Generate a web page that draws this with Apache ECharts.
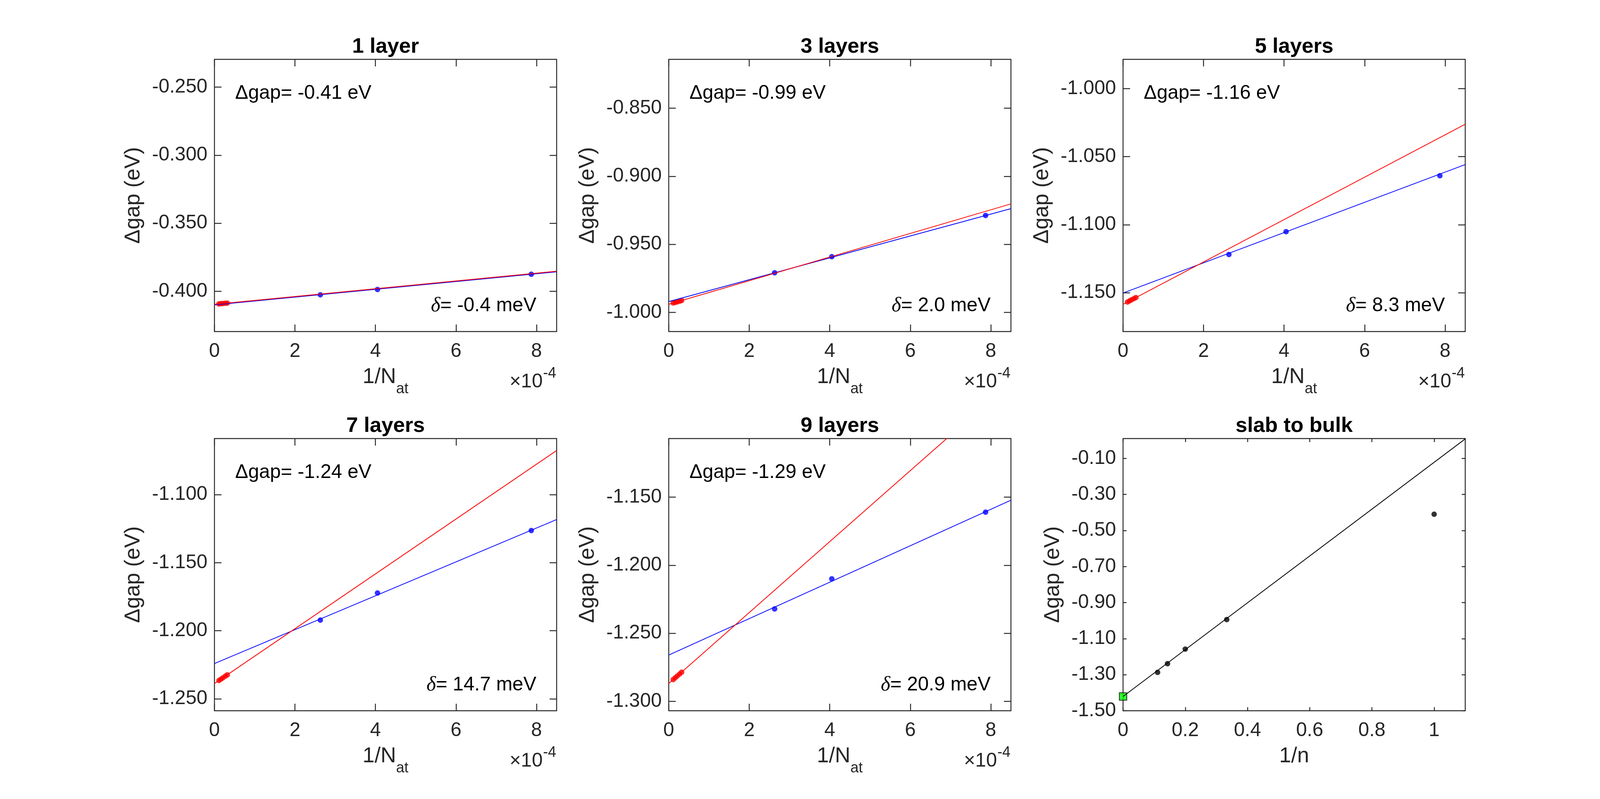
<!DOCTYPE html>
<html>
<head>
<meta charset="utf-8">
<script src="https://cdn.jsdelivr.net/npm/echarts@6/dist/echarts.min.js"></script>
<style>
  html, body { margin: 0; padding: 0; background: #fff; }
  #main { width: 4142px; height: 2046px; }
</style>
</head>
<body>
<div id="main"></div>
<script>
// x values of the slab panels are 1/N_at in units of 1e-4
const xTicks = [0, 2, 4, 6, 8];
const xMax = 8.5;
const lineX = [0, 8.5];
const blueX = [2.63, 4.05, 7.87];
const redX = [0.11, 0.16, 0.21, 0.27, 0.32];

const titles = ['1 layer', '3 layers', '5 layers', '7 layers', '9 layers'];
const gapText = ['-0.41', '-0.99', '-1.16', '-1.24', '-1.29'];
const deltaText = ['-0.4', '2.0', '8.3', '14.7', '20.9'];

const blue1 = [-0.4026, -0.3987, -0.3875];
const blue3 = [-0.9709, -0.9591, -0.9288];
const blue5 = [-1.1219, -1.1051, -1.0640];
const blue7 = [-1.1922, -1.1723, -1.1264];
const blue9 = [-1.2321, -1.2100, -1.1610];

const red1 = [-0.4093, -0.4091, -0.4090, -0.4088, -0.4087];
const red3 = [-0.9931, -0.9927, -0.9923, -0.9918, -0.9913];
const red5 = [-1.1568, -1.1560, -1.1552, -1.1543, -1.1535];
const red7 = [-1.2366, -1.2356, -1.2346, -1.2334, -1.2324];
const red9 = [-1.2840, -1.2827, -1.2814, -1.2799, -1.2786];

// fitted lines, values at x = 0 and x = 8.5
const blueLine1 = [-0.4100, -0.3857];
const redLine1 = [-0.4096, -0.3853];
const blueLine3 = [-0.9921, -0.9238];
const redLine3 = [-0.9941, -0.9203];
const blueLine5 = [-1.1502, -1.0558];
const redLine5 = [-1.1585, -1.0262];
const blueLine7 = [-1.2241, -1.1183];
const redLine7 = [-1.2388, -1.0676];
const blueLine9 = [-1.2660, -1.1522];
const redLine9 = [-1.2869, -1.0653];

const ylim1 = [-0.4296, -0.2296];
const ylim3 = [-1.0141, -0.8141];
const ylim5 = [-1.1785, -0.9785];
const ylim7 = [-1.2588, -1.0588];
const ylim9 = [-1.3069, -1.1069];

const yTicks1 = [-0.40, -0.35, -0.30, -0.25];
const yTicks3 = [-1.00, -0.95, -0.90, -0.85];
const yTicks5 = [-1.15, -1.10, -1.05, -1.00];
const yTicks7 = [-1.25, -1.20, -1.15, -1.10];
const yTicks9 = [-1.30, -1.25, -1.20, -1.15];

// slab to bulk
const invN = [1, 0.3333, 0.2, 0.1429, 0.1111];
const bulkGap = [-0.410, -0.994, -1.158, -1.239, -1.287];
const bulkPoint = [0, -1.421];
const bulkLineX = [0, 1.1];
const bulkLineY = [-1.421, 0.008];
const bulkXTicks = [0, 0.2, 0.4, 0.6, 0.8, 1];
const bulkYTicks = [-1.5, -1.3, -1.1, -0.9, -0.7, -0.5, -0.3, -0.1];
const bulkXMax = 1.1;
const bulkYLim = [-1.5, 0.01];

const AX = '#262626';
const FONT = 'Liberation Sans, Helvetica, Arial, sans-serif';
const gridLeft = [549, 1712, 2875];
const gridTop = [152, 1123];
const gridW = 876, gridH = 697;

const panels = [
  { blue: blue1, red: red1, bl: blueLine1, rl: redLine1, ylim: ylim1, yt: yTicks1 },
  { blue: blue3, red: red3, bl: blueLine3, rl: redLine3, ylim: ylim3, yt: yTicks3 },
  { blue: blue5, red: red5, bl: blueLine5, rl: redLine5, ylim: ylim5, yt: yTicks5 },
  { blue: blue7, red: red7, bl: blueLine7, rl: redLine7, ylim: ylim7, yt: yTicks7 },
  { blue: blue9, red: red9, bl: blueLine9, rl: redLine9, ylim: ylim9, yt: yTicks9 }
];

const measure = (function () {
  const ctx = document.createElement('canvas').getContext('2d');
  return function (text, size, weight) {
    ctx.font = (weight || 'normal') + ' ' + size + 'px ' + FONT;
    return ctx.measureText(text).width;
  };
})();

function makeAxis(dim, gi, lim, ticks, fmt, tickLen, mirror) {
  const line = { color: AX, width: 2.4 };
  return {
    type: 'value',
    gridIndex: gi,
    position: dim === 'x' ? (mirror ? 'top' : 'bottom') : (mirror ? 'right' : 'left'),
    min: lim[0],
    max: lim[1],
    axisLine: { show: true, onZero: false, lineStyle: line },
    axisTick: { show: true, inside: true, length: tickLen, customValues: ticks, lineStyle: line },
    splitLine: { show: false },
    axisLabel: {
      show: !mirror,
      customValues: ticks,
      formatter: fmt,
      color: AX,
      fontSize: 50,
      fontFamily: FONT,
      margin: dim === 'x' ? 26 : 18
    }
  };
}

const grids = [], xAxes = [], yAxes = [], series = [], texts = [];

function cell(i) {
  const col = i % 3, row = Math.floor(i / 3);
  return { left: gridLeft[col], top: gridTop[row] };
}

function addTexts(i, title, yCenterOffset, xName) {
  const c = cell(i);
  const cx = c.left + gridW / 2;
  const bottom = c.top + gridH;
  texts.push({
    type: 'text', x: cx, y: c.top - 32, silent: true,
    style: { text: title, fontSize: 54, fontWeight: 'bold', fontFamily: FONT, fill: '#000',
      align: 'center', verticalAlign: 'middle' }
  });
  texts.push({
    type: 'text', x: c.left - yCenterOffset, y: c.top + gridH / 2, rotation: Math.PI / 2, silent: true,
    style: { text: '\u0394gap (eV)', fontSize: 55, fontFamily: FONT, fill: AX,
      align: 'center', verticalAlign: 'middle' }
  });
  if (xName === 'n') {
    texts.push({
      type: 'text', x: cx, y: bottom + 136 - 19, silent: true,
      style: { text: '1/n', fontSize: 55, fontFamily: FONT, fill: AX, align: 'center', verticalAlign: 'middle' }
    });
  } else {
    const w1 = measure('1/N', 55), w2 = measure('at', 38);
    const x0 = cx - (w1 + w2) / 2;
    texts.push({
      type: 'text', x: x0, y: bottom + 136 - 19, silent: true,
      style: { text: '1/N', fontSize: 55, fontFamily: FONT, fill: AX, align: 'left', verticalAlign: 'middle' }
    });
    texts.push({
      type: 'text', x: x0 + w1, y: bottom + 161 - 13, silent: true,
      style: { text: 'at', fontSize: 38, fontFamily: FONT, fill: AX, align: 'left', verticalAlign: 'middle' }
    });
    const right = c.left + gridW - 1;
    const wExp = measure('-4', 38);
    texts.push({
      type: 'text', x: right, y: bottom + 121 - 13, silent: true,
      style: { text: '-4', fontSize: 38, fontFamily: FONT, fill: AX, align: 'right', verticalAlign: 'middle' }
    });
    texts.push({
      type: 'text', x: right - wExp - 1, y: bottom + 146 - 17, silent: true,
      style: { text: '\u00d710', fontSize: 50, fontFamily: FONT, fill: AX, align: 'right', verticalAlign: 'middle' }
    });
  }
}

panels.forEach(function (p, i) {
  const c = cell(i);
  grids.push({ left: c.left, top: c.top, width: gridW, height: gridH, outerBoundsMode: 'none' });
  const fx = function (v) { return String(Math.round(v)); };
  const fy = function (v) { return v.toFixed(3); };
  xAxes.push(makeAxis('x', i, [0, xMax], xTicks, fx, 18, false));
  xAxes.push(makeAxis('x', i, [0, xMax], xTicks, fx, 18, true));
  yAxes.push(makeAxis('y', i, p.ylim, p.yt, fy, 18, false));
  yAxes.push(makeAxis('y', i, p.ylim, p.yt, fy, 18, true));
  const xi = 2 * i;
  series.push({
    type: 'line', xAxisIndex: xi, yAxisIndex: xi, symbol: 'none', silent: true,
    data: lineX.map(function (x, k) { return [x, p.bl[k]]; }),
    lineStyle: { color: '#0000ff', width: 2 }
  });
  series.push({
    type: 'line', xAxisIndex: xi, yAxisIndex: xi, symbol: 'none', silent: true,
    data: lineX.map(function (x, k) { return [x, p.rl[k]]; }),
    lineStyle: { color: '#ff0000', width: 2 }
  });
  series.push({
    type: 'scatter', xAxisIndex: xi, yAxisIndex: xi, symbolSize: 14, silent: true,
    data: blueX.map(function (x, k) { return [x, p.blue[k]]; }),
    itemStyle: { color: '#0000ff' }
  });
  series.push({
    type: 'scatter', xAxisIndex: xi, yAxisIndex: xi, symbolSize: 14, silent: true,
    data: redX.map(function (x, k) { return [x, p.red[k]]; }),
    itemStyle: { color: '#ff0000' }
  });

  addTexts(i, titles[i], 207, 'N');
  texts.push({
    type: 'text', x: c.left + 53, y: c.top + 87, silent: true,
    style: { text: '\u0394gap= ' + gapText[i] + ' eV', fontSize: 50, fontFamily: FONT, fill: '#000',
      align: 'left', verticalAlign: 'middle' }
  });
  texts.push({
    type: 'text', x: c.left + gridW - 52, y: c.top + gridH - 66, silent: true,
    style: {
      text: '{d|\u03b4}{t|= ' + deltaText[i] + ' meV}', align: 'right', verticalAlign: 'middle',
      rich: {
        d: { fontSize: 52, fontStyle: 'italic', fontFamily: 'Liberation Serif, DejaVu Serif, serif', fill: '#000' },
        t: { fontSize: 50, fontFamily: FONT, fill: '#000' }
      }
    }
  });
});

// slab to bulk panel
(function () {
  const i = 5;
  const c = cell(i);
  grids.push({ left: c.left, top: c.top, width: gridW, height: gridH, outerBoundsMode: 'none' });
  const fx = function (v) { return String(+v.toFixed(1)); };
  const fy = function (v) { return v.toFixed(2); };
  xAxes.push(makeAxis('x', i, [0, bulkXMax], bulkXTicks, fx, 9, false));
  xAxes.push(makeAxis('x', i, [0, bulkXMax], bulkXTicks, fx, 9, true));
  yAxes.push(makeAxis('y', i, bulkYLim, bulkYTicks, fy, 9, false));
  yAxes.push(makeAxis('y', i, bulkYLim, bulkYTicks, fy, 9, true));
  const xi = 2 * i;
  series.push({
    type: 'line', xAxisIndex: xi, yAxisIndex: xi, symbol: 'none', silent: true,
    data: bulkLineX.map(function (x, k) { return [x, bulkLineY[k]]; }),
    lineStyle: { color: '#000', width: 2 }
  });
  series.push({
    type: 'scatter', xAxisIndex: xi, yAxisIndex: xi, symbolSize: 14, silent: true,
    data: invN.map(function (x, k) { return [x, bulkGap[k]]; }),
    itemStyle: { color: '#000' }
  });
  series.push({
    type: 'scatter', xAxisIndex: xi, yAxisIndex: xi, symbol: 'rect', symbolSize: 19, silent: true,
    data: [bulkPoint], clip: false,
    itemStyle: { color: '#00ff00', borderColor: '#000', borderWidth: 2 }
  });
  addTexts(i, 'slab to bulk', 179, 'n');
})();

const chart = echarts.init(document.getElementById('main'), null, { width: 4142, height: 2046 });
chart.setOption({
  animation: false,
  backgroundColor: '#fff',
  textStyle: { fontFamily: FONT },
  grid: grids,
  xAxis: xAxes,
  yAxis: yAxes,
  series: series,
  graphic: { elements: texts }
});
</script>
</body>
</html>
